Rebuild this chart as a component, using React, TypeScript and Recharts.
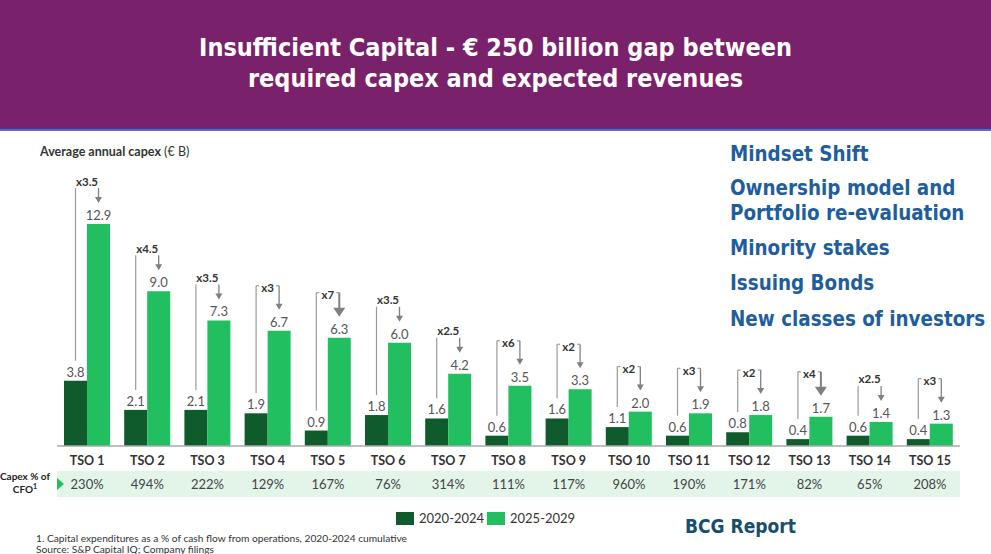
import React from 'react';
import { BarChart, Bar, XAxis, YAxis, LabelList } from 'recharts';

// Average annual capex per TSO, € B
const categories = ['TSO 1', 'TSO 2', 'TSO 3', 'TSO 4', 'TSO 5', 'TSO 6', 'TSO 7', 'TSO 8', 'TSO 9', 'TSO 10', 'TSO 11', 'TSO 12', 'TSO 13', 'TSO 14', 'TSO 15'];
const capex2020 = [3.8, 2.1, 2.1, 1.9, 0.9, 1.8, 1.6, 0.6, 1.6, 1.1, 0.6, 0.8, 0.4, 0.6, 0.4];
const capex2025 = [12.9, 9.0, 7.3, 6.7, 6.3, 6.0, 4.2, 3.5, 3.3, 2.0, 1.9, 1.8, 1.7, 1.4, 1.3];
const multipliers = ['x3.5', 'x4.5', 'x3.5', 'x3', 'x7', 'x3.5', 'x2.5', 'x6', 'x2', 'x2', 'x3', 'x2', 'x4', 'x2.5', 'x3'];
const capexPctOfCfo = ['230%', '494%', '222%', '129%', '167%', '76%', '314%', '111%', '117%', '960%', '190%', '171%', '82%', '65%', '208%'];
const seriesNames = ['2020-2024', '2025-2029'];
const levers = ['Mindset Shift', 'Ownership model and', 'Portfolio re-evaluation', 'Minority stakes', 'Issuing Bonds', 'New classes of investors'];

// which multipliers use the bracket form, and which get the heavy arrow
const bracketed = [false, false, false, true, true, false, false, true, true, true, true, true, true, false, true];
const heavyArrow = [false, false, false, false, true, false, false, false, false, false, false, false, true, false, false];

const rows = categories.map((name, i) => ({ name, early: capex2020[i], late: capex2025[i] }));

const DARK = '#0f5b2c';
const LIGHT = '#22bf60';
const GREY = '#9a9a9a';
const CHART_FONT = 'Lato, "Open Sans", sans-serif';
const SLIDE_FONT = '"DejaVu Sans", Verdana, sans-serif';

const CHART_TOP = 130;
const CHART_H = 424;
const Y_MAX = 16;
// plot area runs x 57..960, baseline at y 446 on the page
const MARGIN = { top: 40.8, right: 31, bottom: 78, left: 57 };

const ValueLabel = (props: any) => {
  const { x, y, width, value } = props;
  return (
    <text x={x + width / 2} y={y - 9} textAnchor="middle" dominantBaseline="central"
      fontSize={13} fill="#555" fontFamily={CHART_FONT}>
      {Number(value).toFixed(1)}
    </text>
  );
};

// growth multiplier drawn above each pair: line from the early bar, arrow onto the late bar
const Multiplier = (props: any) => {
  const { x, y, width, height, value } = props;
  const i = categories.indexOf(value);
  if (i < 0) return null;
  const base = y + height;
  const darkTop = base - (height * capex2020[i]) / capex2025[i];
  const leftX = x - width / 2;
  const rightX = x + width / 2;
  const textY = y - 43;
  const arrowEnd = y - 21;
  const heavy = heavyArrow[i];
  const headLen = heavy ? 9 : 6;
  const headHalf = heavy ? 6 : 3.5;
  const bracket = bracketed[i];
  const top = bracket ? textY - 2 : textY + 7;
  return (
    <g>
      <line x1={leftX} y1={top} x2={leftX} y2={darkTop - 20} stroke={GREY} strokeWidth={1.2} />
      {bracket && <line x1={leftX} y1={top} x2={leftX + 3} y2={top} stroke={GREY} strokeWidth={1.2} />}
      {bracket && <line x1={rightX - 3} y1={top} x2={rightX} y2={top} stroke={GREY} strokeWidth={1.2} />}
      <line x1={rightX} y1={top} x2={rightX} y2={arrowEnd - headLen + 1} stroke="#808080" strokeWidth={heavy ? 2 : 1.3} />
      <polygon
        points={`${rightX - headHalf},${arrowEnd - headLen} ${rightX + headHalf},${arrowEnd - headLen} ${rightX},${arrowEnd}`}
        fill="#808080"
      />
      <text x={(leftX + rightX) / 2} y={textY} textAnchor="middle" dominantBaseline="central"
        fontSize={11.5} fontWeight="bold" fill="#333" fontFamily={CHART_FONT}>
        {multipliers[i]}
      </text>
    </g>
  );
};

const CategoryTick = (props: any) => {
  const { x, y, payload } = props;
  const i = categories.indexOf(payload.value);
  return (
    <g fontFamily={CHART_FONT}>
      <text x={x} y={y + 14} textAnchor="middle" dominantBaseline="central" fontSize={12.5} fontWeight="bold" fill="#333">
        {payload.value}
      </text>
      <text x={x} y={y + 38} textAnchor="middle" dominantBaseline="central" fontSize={13} fill="#444">
        {capexPctOfCfo[i]}
      </text>
    </g>
  );
};

export default function App() {
  return (
    <div style={{ position: 'absolute', left: 0, top: 0, width: 991, height: 554, overflow: 'hidden', background: '#fff', fontFamily: CHART_FONT }}>
      {/* header band */}
      <div style={{ position: 'absolute', left: 0, top: 0, width: 991, height: 129, background: '#7a216b' }} />
      <div style={{ position: 'absolute', left: 0, top: 129, width: 991, height: 2, background: '#4d6fe0' }} />
      <div style={{
        position: 'absolute', left: 0, top: 32, width: 991, textAlign: 'center', color: '#fff',
        fontFamily: SLIDE_FONT, fontStretch: 'condensed', fontWeight: 'bold', fontSize: 25, lineHeight: '31px',
      }}>
        Insufficient Capital - € 250 billion gap between<br />required capex and expected revenues
      </div>

      <div style={{ position: 'absolute', left: 40, top: 144, fontSize: 12.5, color: '#333' }}>
        <b>Average annual capex</b> (€ B)
      </div>

      {/* Capex % of CFO strip */}
      <div style={{ position: 'absolute', left: 57, top: 471, width: 903, height: 26, background: '#e3f5e9' }} />
      <svg style={{ position: 'absolute', left: 56, top: 478 }} width={10} height={12}>
        <polygon points="1,0 8,6 1,12" fill={LIGHT} />
      </svg>
      <div style={{ position: 'absolute', left: -1, top: 470, width: 52, textAlign: 'center', fontSize: 10, fontWeight: 'bold', color: '#222', lineHeight: '13px', whiteSpace: 'nowrap' }}>
        Capex % of<br />CFO<sup style={{ fontSize: 7, lineHeight: 0 }}>1</sup>
      </div>

      <div style={{ position: 'absolute', left: 0, top: CHART_TOP }}>
        <BarChart width={991} height={CHART_H} data={rows} margin={MARGIN} barGap={0} barSize={23}>
          <YAxis hide domain={[0, Y_MAX]} />
          <XAxis dataKey="name" interval={0} tickLine={false} tickSize={0} tickMargin={0}
            axisLine={{ stroke: '#a8a8a8', strokeWidth: 1.5 }} tick={<CategoryTick />} />
          <Bar dataKey="early" fill={DARK} isAnimationActive={false}>
            <LabelList dataKey="early" content={<ValueLabel />} />
          </Bar>
          <Bar dataKey="late" fill={LIGHT} isAnimationActive={false}>
            <LabelList dataKey="late" content={<ValueLabel />} />
            <LabelList dataKey="name" content={<Multiplier />} />
          </Bar>
        </BarChart>
      </div>

      {/* legend */}
      {seriesNames.map((s, i) => (
        <div key={s} style={{ position: 'absolute', left: 396 + i * 91, top: 510, display: 'flex', alignItems: 'center', fontSize: 13, color: '#333' }}>
          <span style={{ display: 'inline-block', width: 18, height: 13, background: i === 0 ? DARK : LIGHT, marginRight: 5 }} />
          {s}
        </div>
      ))}

      <div style={{ position: 'absolute', left: 36, top: 533, fontSize: 10.2, color: '#333', lineHeight: '11px' }}>
        1. Capital expenditures as a % of cash flow from operations, 2020-2024 cumulative<br />
        Source: S&amp;P Capital IQ; Company filings
      </div>

      {/* right-hand list */}
      {levers.map((t, i) => {
        const tops = [142, 176, 201, 236, 271, 307];
        return (
          <div key={t} style={{
            position: 'absolute', left: 730, top: tops[i], fontFamily: SLIDE_FONT, fontStretch: 'condensed',
            fontWeight: 'bold', fontSize: 20.4, lineHeight: '25px', color: '#1f5e9c', whiteSpace: 'nowrap',
          }}>
            {t}
          </div>
        );
      })}
      <div style={{
        position: 'absolute', left: 685, top: 514, fontFamily: SLIDE_FONT, fontStretch: 'condensed',
        fontWeight: 'bold', fontSize: 19, lineHeight: '24px', color: '#174e6b', whiteSpace: 'nowrap',
      }}>
        BCG Report
      </div>
    </div>
  );
}
